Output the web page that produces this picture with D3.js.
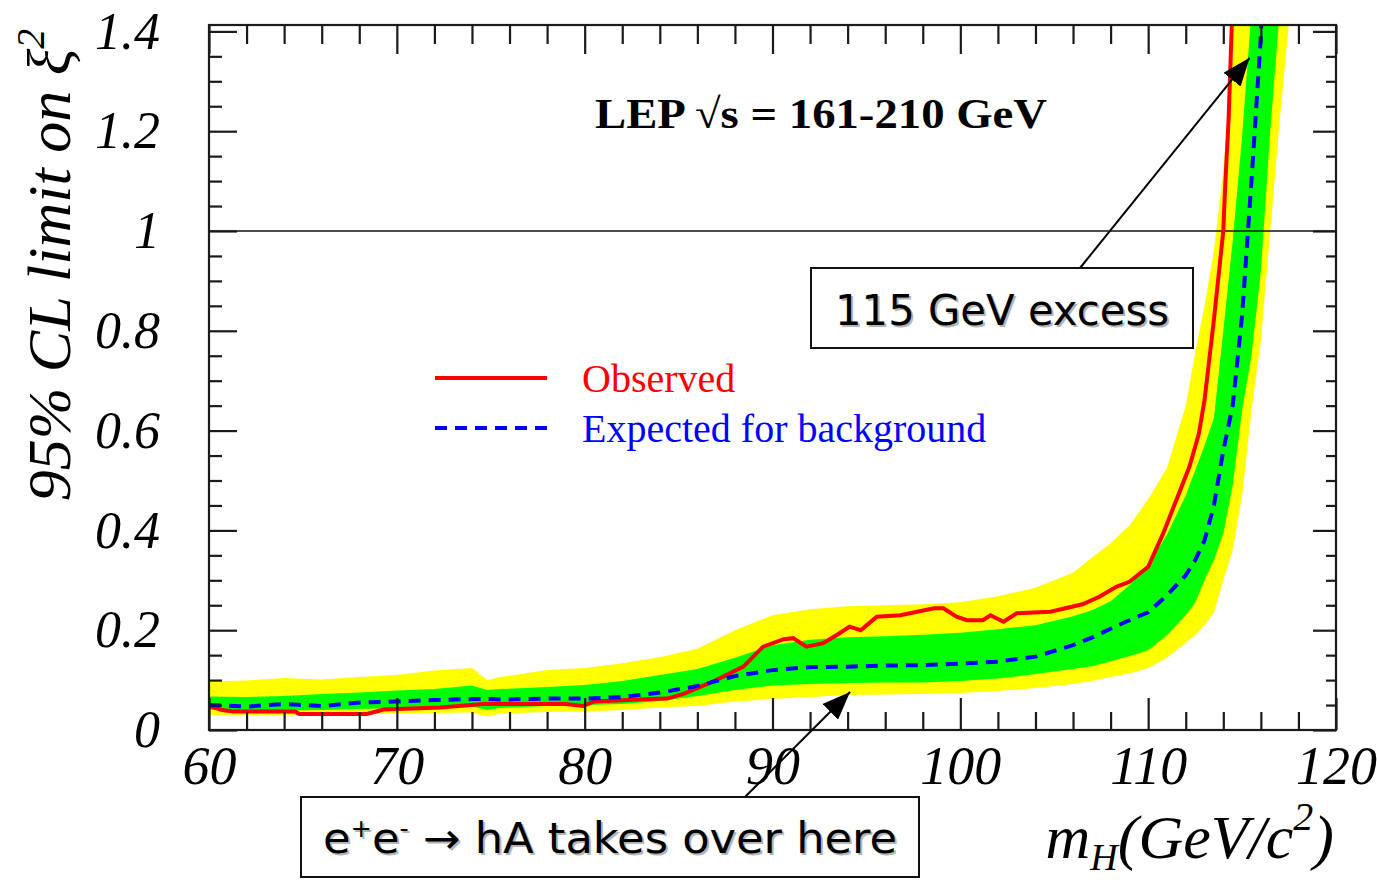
<!DOCTYPE html>
<html>
<head>
<meta charset="utf-8">
<script src="https://cdn.jsdelivr.net/npm/d3@7"></script>
<style>
  body { margin: 0; background: #fff; }
  svg { display: block; }
</style>
</head>
<body>
<div id="chart"></div>
<script>
// mass points used by the expected curve and the two bands (GeV)
const bandMass = [60, 62, 64, 66, 68, 70, 72, 74, 74.8, 75.5, 78, 80, 82, 84, 86, 88, 90, 92, 94, 96, 98, 100, 102, 104, 106, 107, 108, 109, 110, 111, 112, 112.5, 113, 113.5, 114, 114.5, 115, 115.5, 116, 116.5, 117, 117.5, 118];
const expected = [0.050, 0.047, 0.052, 0.048, 0.055, 0.057, 0.060, 0.062, 0.062, 0.061, 0.063, 0.063, 0.066, 0.075, 0.088, 0.108, 0.120, 0.126, 0.127, 0.129, 0.130, 0.133, 0.137, 0.147, 0.170, 0.185, 0.203, 0.220, 0.236, 0.270, 0.310, 0.340, 0.380, 0.450, 0.560, 0.650, 0.830, 1.10, 1.39, 1.9, 2.4, 2.9, 3.4];
const greenHigh = [0.067, 0.066, 0.068, 0.072, 0.075, 0.079, 0.082, 0.089, 0.080, 0.082, 0.086, 0.090, 0.098, 0.110, 0.122, 0.145, 0.170, 0.181, 0.186, 0.188, 0.191, 0.195, 0.202, 0.210, 0.228, 0.240, 0.258, 0.290, 0.330, 0.392, 0.470, 0.520, 0.570, 0.625, 0.80, 0.98, 1.19, 1.44, 1.9, 2.4, 2.9, 3.4, 3.9];
const greenLow = [0.041, 0.037, 0.039, 0.040, 0.042, 0.044, 0.045, 0.047, 0.040, 0.044, 0.048, 0.050, 0.052, 0.058, 0.068, 0.080, 0.089, 0.092, 0.094, 0.095, 0.095, 0.098, 0.103, 0.112, 0.122, 0.128, 0.138, 0.148, 0.160, 0.190, 0.230, 0.255, 0.300, 0.340, 0.394, 0.490, 0.640, 0.750, 0.920, 1.20, 1.44, 1.8, 2.2];
const yellowHigh = [0.097, 0.099, 0.104, 0.101, 0.106, 0.110, 0.119, 0.124, 0.100, 0.106, 0.120, 0.124, 0.134, 0.146, 0.163, 0.200, 0.230, 0.242, 0.248, 0.250, 0.252, 0.256, 0.268, 0.285, 0.315, 0.345, 0.374, 0.410, 0.462, 0.525, 0.650, 0.755, 0.850, 0.960, 1.12, 1.35, 1.9, 2.4, 2.9, 3.4, 3.9, 4.4, 4.9];
const yellowLow = [0.030, 0.030, 0.030, 0.030, 0.031, 0.033, 0.034, 0.035, 0.027, 0.033, 0.036, 0.037, 0.040, 0.045, 0.048, 0.057, 0.062, 0.066, 0.070, 0.071, 0.072, 0.074, 0.078, 0.084, 0.092, 0.098, 0.106, 0.113, 0.124, 0.145, 0.175, 0.190, 0.210, 0.235, 0.300, 0.360, 0.470, 0.640, 0.780, 1.00, 1.22, 1.42, 1.65];

// observed limit
const obsMass = [60, 60.7, 61.3, 64.6, 64.8, 68.4, 69.3, 72.3, 74.6, 79.0, 79.9, 80.5, 83.5, 84.4, 85.3, 87.0, 88.45, 89.5, 90.6, 91.1, 91.8, 92.7, 93.4, 94.1, 94.7, 95.55, 96.8, 97.7, 98.6, 99.1, 99.8, 100.35, 101.2, 101.6, 102.3, 103.0, 104.8, 106.5, 107.4, 108.3, 109.0, 110.0, 110.8, 111.5, 112.2, 112.7, 113.0, 113.5, 114.0, 114.1, 114.28, 114.45, 114.6];
const observed = [0.048, 0.040, 0.037, 0.037, 0.032, 0.032, 0.041, 0.045, 0.052, 0.052, 0.048, 0.057, 0.062, 0.063, 0.073, 0.100, 0.127, 0.167, 0.182, 0.184, 0.167, 0.174, 0.190, 0.207, 0.200, 0.227, 0.230, 0.237, 0.244, 0.244, 0.227, 0.220, 0.220, 0.230, 0.217, 0.234, 0.237, 0.252, 0.267, 0.287, 0.297, 0.327, 0.394, 0.461, 0.528, 0.594, 0.661, 0.822, 1.0, 1.09, 1.222, 1.41, 1.6];

const xMajor = [60, 70, 80, 90, 100, 110, 120];
const yMajor = [0, 0.2, 0.4, 0.6, 0.8, 1, 1.2, 1.4];
const yLabels = ["0", "0.2", "0.4", "0.6", "0.8", "1", "1.2", "1.4"];

const width = 1377, height = 882;
const plot = { left: 209, right: 1336, top: 25, bottom: 730 };
const serif = "Liberation Serif, Times New Roman, serif";

const svg = d3.select("#chart").append("svg")
    .attr("width", width)
    .attr("height", height);

const x = d3.scaleLinear().domain([60, 120]).range([plot.left, plot.right]);
const y = d3.scaleLinear().domain([0, 1.4128]).range([plot.bottom, plot.top]);

svg.append("defs").append("clipPath")
    .attr("id", "plot-clip")
    .append("rect")
    .attr("x", plot.left).attr("y", plot.top)
    .attr("width", plot.right - plot.left)
    .attr("height", plot.bottom - plot.top);

const bands = bandMass.map((m, i) => ({
    m: m, exp: expected[i],
    g0: greenLow[i], g1: greenHigh[i],
    y0: yellowLow[i], y1: yellowHigh[i]
}));
const obs = obsMass.map((m, i) => ({ m: m, v: observed[i] }));

const inner = svg.append("g").attr("clip-path", "url(#plot-clip)");

inner.append("path")
    .datum(bands)
    .attr("fill", "#ffff00")
    .attr("d", d3.area().x(d => x(d.m)).y0(d => y(d.y0)).y1(d => y(d.y1)));

inner.append("path")
    .datum(bands)
    .attr("fill", "#00ff00")
    .attr("d", d3.area().x(d => x(d.m)).y0(d => y(d.g0)).y1(d => y(d.g1)));

// line at xi^2 = 1
inner.append("line")
    .attr("x1", plot.left).attr("x2", plot.right)
    .attr("y1", y(1)).attr("y2", y(1))
    .attr("stroke", "#111")
    .attr("stroke-width", 1.6);

inner.append("path")
    .datum(obs)
    .attr("fill", "none")
    .attr("stroke", "#ff0000")
    .attr("stroke-width", 4)
    .attr("d", d3.line().x(d => x(d.m)).y(d => y(d.v)));

inner.append("path")
    .datum(bands)
    .attr("fill", "none")
    .attr("stroke", "#0000ff")
    .attr("stroke-width", 4)
    .attr("stroke-dasharray", "12,8")
    .attr("d", d3.line().x(d => x(d.m)).y(d => y(d.exp)));

// axes: ticks point inwards
const xMinor = d3.range(60, 121, 2).filter(v => v % 10 !== 0);
const yMinor = d3.range(0, 1.41, 0.05).map(v => +v.toFixed(2)).filter(v => Math.round(v * 100) % 20 !== 0);

function styleTicks(g) {
    g.select(".domain").remove();
    g.selectAll(".tick line").attr("stroke", "#1a1a1a").attr("stroke-width", 2.2);
}

svg.append("g")
    .attr("transform", `translate(0,${plot.bottom})`)
    .call(d3.axisBottom(x).tickValues(xMajor).tickSize(-32).tickPadding(16).tickFormat(d3.format("d")))
    .call(styleTicks)
    .call(g => g.selectAll("text")
        .attr("font-family", serif)
        .attr("font-style", "italic")
        .attr("font-size", 54)
        .attr("fill", "#000"));

svg.append("g")
    .attr("transform", `translate(0,${plot.bottom})`)
    .call(d3.axisBottom(x).tickValues(xMinor).tickSize(-18).tickFormat(""))
    .call(styleTicks);

svg.append("g")
    .attr("transform", `translate(0,${plot.top})`)
    .call(d3.axisTop(x).tickValues(xMajor).tickSize(-29).tickFormat(""))
    .call(styleTicks);

svg.append("g")
    .attr("transform", `translate(0,${plot.top})`)
    .call(d3.axisTop(x).tickValues(xMinor).tickSize(-19).tickFormat(""))
    .call(styleTicks);

svg.append("g")
    .attr("transform", `translate(${plot.left},0)`)
    .call(d3.axisLeft(y).tickValues(yMajor).tickSize(-28).tickPadding(49).tickFormat((d, i) => yLabels[i]))
    .call(styleTicks)
    .call(g => g.selectAll("text")
        .attr("font-family", serif)
        .attr("font-style", "italic")
        .attr("font-size", 52)
        .attr("fill", "#000"));

svg.append("g")
    .attr("transform", `translate(${plot.left},0)`)
    .call(d3.axisLeft(y).tickValues(yMinor).tickSize(-13).tickFormat(""))
    .call(styleTicks);

svg.append("g")
    .attr("transform", `translate(${plot.right},0)`)
    .call(d3.axisRight(y).tickValues(yMajor).tickSize(-23).tickFormat(""))
    .call(styleTicks);

svg.append("g")
    .attr("transform", `translate(${plot.right},0)`)
    .call(d3.axisRight(y).tickValues(yMinor).tickSize(-10).tickFormat(""))
    .call(styleTicks);

// frame
svg.append("rect")
    .attr("x", plot.left).attr("y", plot.top)
    .attr("width", plot.right - plot.left)
    .attr("height", plot.bottom - plot.top)
    .attr("fill", "none")
    .attr("stroke", "#1a1a1a")
    .attr("stroke-width", 2.2);

// title inside the frame
svg.append("text")
    .attr("x", 821).attr("y", 128)
    .attr("text-anchor", "middle")
    .attr("font-family", serif)
    .attr("font-weight", "bold")
    .attr("font-size", 42)
    .attr("textLength", 452)
    .attr("lengthAdjust", "spacingAndGlyphs")
    .text("LEP \u221As = 161-210 GeV");

// y axis title
const yTitle = svg.append("text")
    .attr("transform", "translate(70,265) rotate(-90)")
    .attr("text-anchor", "middle")
    .attr("font-family", serif)
    .attr("font-style", "italic")
    .attr("font-size", 62);
yTitle.append("tspan").text("95% CL limit on \u03BE");
yTitle.append("tspan").attr("font-size", 40).attr("dy", -26).text("2");

// x axis title
const xTitle = svg.append("text")
    .attr("x", 1334).attr("y", 858)
    .attr("text-anchor", "end")
    .attr("font-family", serif)
    .attr("font-style", "italic")
    .attr("font-size", 62);
xTitle.append("tspan").text("m");
xTitle.append("tspan").attr("font-size", 38).attr("dy", 12).text("H");
xTitle.append("tspan").attr("dy", -12).text("(GeV/c");
xTitle.append("tspan").attr("font-size", 40).attr("dy", -28).text("2");
xTitle.append("tspan").attr("dy", 28).text(")");

// legend
const legend = [
    { label: "Observed", color: "#ff0000", dash: null, y: 378 },
    { label: "Expected for background", color: "#0000ff", dash: "12,8", y: 428 }
];
legend.forEach(l => {
    svg.append("line")
        .attr("x1", 435).attr("x2", 547)
        .attr("y1", l.y).attr("y2", l.y)
        .attr("stroke", l.color)
        .attr("stroke-width", 4)
        .attr("stroke-dasharray", l.dash);
    svg.append("text")
        .attr("x", 582).attr("y", l.y + 14)
        .attr("font-family", serif)
        .attr("font-size", 40)
        .attr("fill", l.color)
        .text(l.label);
});

// annotations
svg.append("defs").append("marker")
    .attr("id", "arrowhead")
    .attr("viewBox", "0 -11 28 22")
    .attr("refX", 28)
    .attr("refY", 0)
    .attr("markerUnits", "userSpaceOnUse")
    .attr("markerWidth", 28)
    .attr("markerHeight", 22)
    .attr("orient", "auto")
    .append("path")
    .attr("d", "M0,-11 L28,0 L0,11 Z")
    .attr("fill", "#000");

const notes = [
    { box: [811, 268, 382, 80], from: [1080, 268], to: [115.4, 1.347], textX: 1002, textY: 325, len: 334 },
    { box: [301, 797, 618, 80], from: [745, 797], to: [94.13, 0.076], textX: 610, textY: 853, len: 574 }
];

notes.forEach(n => {
    svg.append("line")
        .attr("x1", n.from[0]).attr("y1", n.from[1])
        .attr("x2", x(n.to[0])).attr("y2", y(n.to[1]))
        .attr("stroke", "#000")
        .attr("stroke-width", 2)
        .attr("marker-end", "url(#arrowhead)");
    svg.append("rect")
        .attr("x", n.box[0]).attr("y", n.box[1])
        .attr("width", n.box[2]).attr("height", n.box[3])
        .attr("fill", "#fff")
        .attr("stroke", "#111")
        .attr("stroke-width", 2);
});

function noteText(i, fill, dx) {
    const n = notes[i];
    return svg.append("text")
        .attr("x", n.textX + dx).attr("y", n.textY + dx)
        .attr("text-anchor", "middle")
        .attr("font-family", "DejaVu Sans, Verdana, sans-serif")
        .attr("font-size", 42)
        .attr("textLength", n.len)
        .attr("lengthAdjust", "spacingAndGlyphs")
        .attr("fill", fill);
}

[["#b5b5b5", 2], ["#000", 0]].forEach(([fill, dx]) => {
    noteText(0, fill, dx).text("115 GeV excess");
    const t = noteText(1, fill, dx);
    t.append("tspan").text("e");
    t.append("tspan").attr("font-size", 24).attr("dy", -16).text("+");
    t.append("tspan").attr("dy", 16).text("e");
    t.append("tspan").attr("font-size", 24).attr("dy", -16).text("-");
    t.append("tspan").attr("dy", 16).text(" \u2192 hA takes over here");
});
</script>
</body>
</html>
